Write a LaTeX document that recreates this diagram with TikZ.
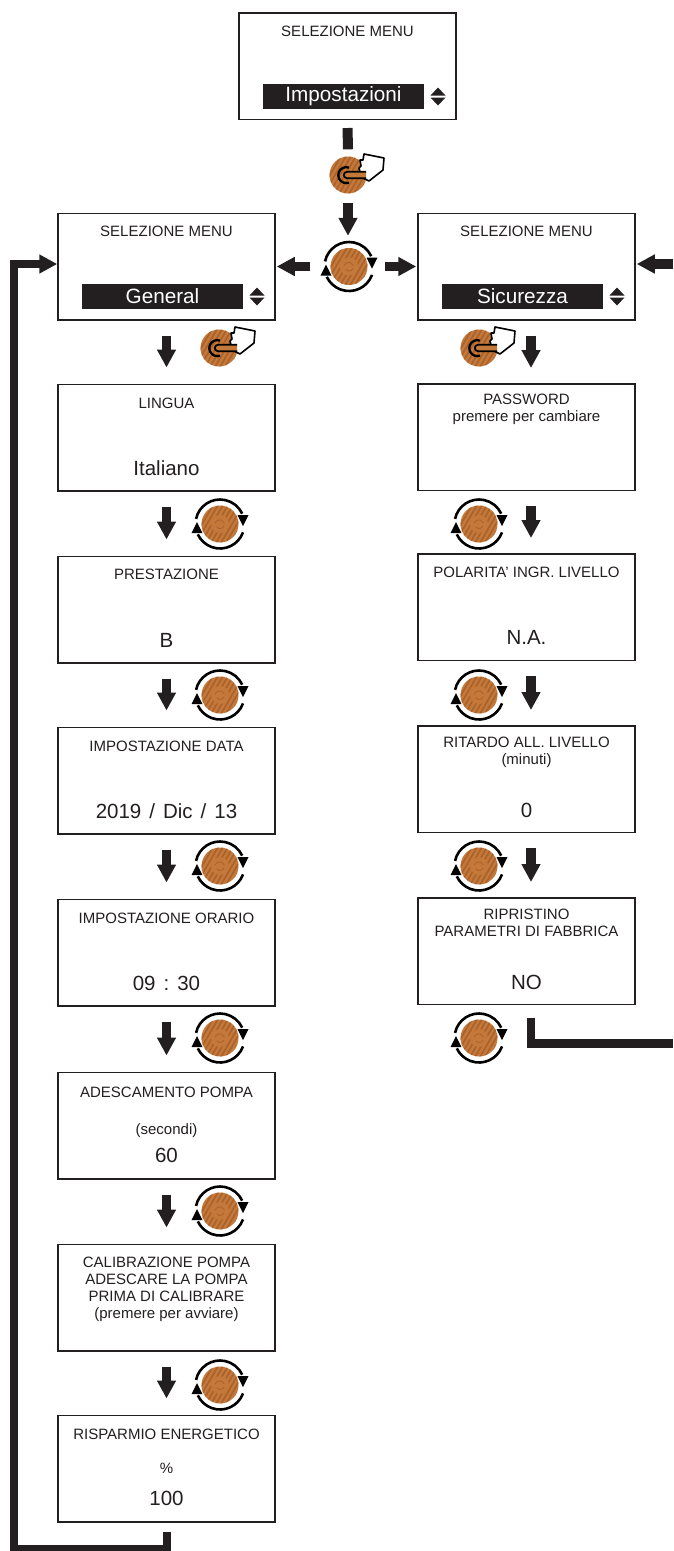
\documentclass[tikz,border=0pt]{standalone}
\usepackage{fontspec}
\setmainfont{Liberation Sans}
\usetikzlibrary{arrows.meta,calc}
\definecolor{ink}{HTML}{231F20}
\definecolor{knobc}{HTML}{C4783A}
\definecolor{knobd}{HTML}{A9622B}
\tikzset{
 x=1pt,y=1pt,
 screen/.style={draw=ink,line width=1.5pt,minimum width=217pt,minimum height=106.5pt,inner sep=0pt,fill=white},
 ttl/.style={inner sep=0pt,text=ink,align=center,font=\fontsize{15}{17}\selectfont},
 val/.style={inner sep=0pt,text=ink,align=center,font=\fontsize{20.5}{24}\selectfont},
 bar/.style={fill=ink,text=white,minimum width=161pt,minimum height=25pt,inner sep=0pt,font=\fontsize{20.7}{24}\selectfont},
 bigarrow/.style={draw=ink,line width=9.5pt,-{Triangle[length=18pt,width=18pt,inset=0pt]}},
 stem/.style={draw=ink,line width=10pt},
 loopline/.style={draw=ink,line width=8pt,line join=miter,-{Triangle[length=18pt,width=18pt,inset=0pt]}},
 loopend/.style={draw=ink,line width=8.5pt,line join=miter},
 knob/.style={circle,minimum size=37pt,inner sep=0pt,fill=knobc,path picture={
   \foreach \s in {-28,-23,...,28}
     \draw[knobd,line width=1.6pt] ($(path picture bounding box.center)+(\s,0)+(-14,-24)$) -- ++(28,48);}},
 turn/.style={draw=black,line width=2.6pt},
 turntip/.style={fill=black},
 updn/.style={fill=ink},
}
% rotary knob: name, position
\newcommand{\rotk}[2]{%
 \node[knob] (#1) at #2 {};
 \fill[knobc] (#1.center) circle[radius=9pt];
 \draw[knobd,line width=0.8pt] ([shift={(-5,1)}]#1.center) arc[start angle=160,end angle=20,radius=5pt];
 \draw[knobd,line width=0.8pt] ([shift={(4,-2)}]#1.center) arc[start angle=-20,end angle=-150,radius=4pt];
 \draw[turn] ([shift={(168:24.5pt)}]#1.center) arc[start angle=168,end angle=25,radius=24.5pt];
 \fill[turntip] ([shift={(17.5,9)}]#1.center) -- ([shift={(28.5,9)}]#1.center) -- ([shift={(23,-2)}]#1.center) -- cycle;
 \draw[turn] ([shift={(-20:24.5pt)}]#1.center) arc[start angle=-20,end angle=-155,radius=24.5pt];
 \fill[turntip] ([shift={(-17.5,-9)}]#1.center) -- ([shift={(-28.5,-9)}]#1.center) -- ([shift={(-23,2)}]#1.center) -- cycle;
}
% push knob: name, position
\newcommand{\psh}[2]{%
 \node[knob] (#1) at #2 {};
 \begin{scope}[shift={(#1.center)}]
 \draw[draw=black,fill=white,line width=1.6pt,line join=round] (16,21) -- (36,17) -- (35,5) -- (21,-6) -- (15,-3) -- (12,3) -- (11,7) -- (13,9) -- (12,15) -- (15,15) -- cycle;
 \draw[black,line width=2.3pt] (1,7.4) arc[start angle=70,end angle=290,radius=8pt];
 \draw[black,line width=1.8pt,fill=knobc] (18,3.2) -- (-1,3.2) arc[start angle=90,end angle=270,radius=3.2pt] -- (18,-3.2);
 \end{scope}
}
\newcommand{\updown}[1]{%
 \fill[updn] ($#1+(-7.5,1)$) -- ($#1+(7.5,1)$) -- ($#1+(0,9)$) -- cycle;
 \fill[updn] ($#1+(-7.5,-1)$) -- ($#1+(7.5,-1)$) -- ($#1+(0,-9)$) -- cycle;
}
\begin{document}
\begin{tikzpicture}
\useasboundingbox (0,0) rectangle (673,-1551);
% screens
\node[screen] (top) at (347.5,-66) {};
\node[screen] (gen) at (166.5,-266.5) {};
\node[screen] (sic) at (526.5,-266.5) {};
\node[screen] (a1) at (166.5,-437.5) {};
\node[screen] (a2) at (166.5,-609.5) {};
\node[screen] (a3) at (166.5,-780.5) {};
\node[screen] (a4) at (166.5,-952.5) {};
\node[screen] (a5) at (166.5,-1125.5) {};
\node[screen] (a6) at (166.5,-1297.5) {};
\node[screen] (a7) at (166.5,-1468.5) {};
\node[screen] (b1) at (526.5,-437) {};
\node[screen] (b2) at (526.5,-607) {};
\node[screen] (b3) at (526.5,-779) {};
\node[screen] (b4) at (526.5,-951) {};
% texts
\node[ttl] (t0) at (347.5,-31) {SELEZIONE MENU};
\node[bar] (v0) at (343.5,-96.5) {Impostazioni};
\updown{(438,-96.5)}
\node[ttl] (t1) at (166.5,-231) {SELEZIONE MENU};
\node[bar] (v1) at (162.5,-296.5) {General};
\updown{(257,-296.5)}
\node[ttl] (t2) at (526.5,-231) {SELEZIONE MENU};
\node[bar] (v2) at (522.5,-296.5) {Sicurezza};
\updown{(617,-296.5)}
\node[ttl] (a1t) at (166.5,-403) {LINGUA};
\node[val] (a1v) at (166.5,-468) {Italiano};
\node[ttl] (a2t) at (166.5,-574) {PRESTAZIONE};
\node[val] (a2v) at (166.5,-640) {B};
\node[ttl] (a3t) at (166.5,-746) {IMPOSTAZIONE DATA};
\node[val] (a3v) at (166.5,-811) {2019\hspace{8pt}/\hspace{8pt}Dic\hspace{8pt}/\hspace{8pt}13};
\node[ttl] (a4t) at (166.5,-918) {IMPOSTAZIONE ORARIO};
\node[val] (a4v) at (166.5,-983) {09\hspace{8pt}:\hspace{8pt}30};
\node[ttl] (a5t) at (166.5,-1092) {ADESCAMENTO POMPA};
\node[ttl] (a5s) at (166.5,-1131) {(secondi)};
\node[val] (a5v) at (166.5,-1155) {60};
\node[ttl] (a6t) at (166.5,-1289) {CALIBRAZIONE POMPA\\ADESCARE LA POMPA\\PRIMA DI CALIBRARE\\(premere per avviare)};
\node[ttl] (a7t) at (166.5,-1434) {RISPARMIO ENERGETICO};
\node[ttl] (a7s) at (166.5,-1468) {\%};
\node[val] (a7v) at (166.5,-1498) {100};
\node[ttl] (b1t) at (526.5,-409) {PASSWORD\\premere per cambiare};
\node[ttl] (b2t) at (526.5,-572) {POLARITA' INGR. LIVELLO};
\node[val] (b2v) at (526.5,-637) {N.A.};
\node[ttl] (b3t) at (526.5,-752) {RITARDO ALL. LIVELLO\\(minuti)};
\node[val] (b3v) at (526.5,-810) {0};
\node[ttl] (b4t) at (526.5,-923) {RIPRISTINO\\PARAMETRI DI FABBRICA};
\node[val] (b4v) at (526.5,-982) {NO};
% knobs
\psh{k0}{(348,-175)}
\rotk{k1}{(349,-266.5)}
\psh{pl}{(219,-348)}
\psh{pr}{(479,-348)}
\rotk{l1}{(220,-524)}
\rotk{l2}{(220,-695)}
\rotk{l3}{(220,-866)}
\rotk{l4}{(220,-1038)}
\rotk{l5}{(220,-1211)}
\rotk{l6}{(220,-1385)}
\rotk{r1}{(479,-524)}
\rotk{r2}{(479,-695)}
\rotk{r3}{(479,-866)}
\rotk{r4}{(479,-1038)}
% connectors
\draw[stem,shorten <=8pt,shorten >=7pt] (top.south) -- (k0.north);
\draw[bigarrow,shorten <=9pt,shorten >=12pt] (k0.south) -- (k1.north -| k0.south);
\draw[bigarrow,shorten <=20pt,shorten >=1pt] (k1.west) -- (gen.east);
\draw[bigarrow,shorten <=17pt,shorten >=1pt] (k1.east) -- (sic.west);
\coordinate (rin) at (673,-264);
\draw[bigarrow,shorten >=1pt] (rin) -- (rin -| sic.east);
\draw[bigarrow,shorten <=15pt,shorten >=16pt] (gen.south) -- (a1.north);
\draw[bigarrow,shorten <=15pt,shorten >=16pt] (a1.south) -- (a2.north);
\draw[bigarrow,shorten <=15pt,shorten >=16pt] (a2.south) -- (a3.north);
\draw[bigarrow,shorten <=15pt,shorten >=16pt] (a3.south) -- (a4.north);
\draw[bigarrow,shorten <=15pt,shorten >=16pt] (a4.south) -- (a5.north);
\draw[bigarrow,shorten <=15pt,shorten >=16pt] (a5.south) -- (a6.north);
\draw[bigarrow,shorten <=15pt,shorten >=16pt] (a6.south) -- (a7.north);
\draw[bigarrow,shorten <=15pt,shorten >=15pt] ([xshift=4.5pt]sic.south) -- ([xshift=4.5pt]b1.north);
\draw[bigarrow,shorten <=15pt,shorten >=15pt] ([xshift=4.5pt]b1.south) -- ([xshift=4.5pt]b2.north);
\draw[bigarrow,shorten <=15pt,shorten >=15pt] ([xshift=4.5pt]b2.south) -- ([xshift=4.5pt]b3.north);
\draw[bigarrow,shorten <=15pt,shorten >=15pt] ([xshift=4.5pt]b3.south) -- ([xshift=4.5pt]b4.north);
\coordinate (lc1) at (14,-1549);
\coordinate (lc2) at (14,-264);
\draw[loopline,shorten <=9pt] (a7.south) |- (lc1) -- (lc2) -- ([yshift=2.5pt]gen.west);
\coordinate (rc1) at (531,-1043.5);
\coordinate (rout) at (673,-1043.5);
\draw[loopend,shorten <=13pt] ([xshift=4.5pt]b4.south) -- (rc1) -- (rout);
\end{tikzpicture}
\end{document}
